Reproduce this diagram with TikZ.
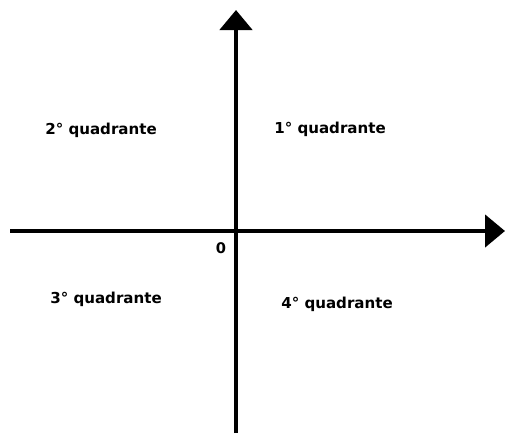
\documentclass[tikz,border=0pt]{standalone}
\usepackage{fontspec}
\setmainfont{DejaVu Sans}
\usetikzlibrary{arrows.meta}

\tikzset{
  eixo/.style={line width=3.5pt,-{Triangle[width=24pt,length=15pt]}},
  quad/.style={font=\bfseries\fontsize{11.3}{13}\selectfont}
}

\begin{document}
\begin{tikzpicture}[x=0.75pt,y=-0.75pt]
  \useasboundingbox (0,0) rectangle (506,433);
  % eixos
  \coordinate (xini) at (10,231);
  \coordinate (xfim) at (505,231);
  \coordinate (yini) at (236,433);
  \coordinate (yfim) at (236,10);
  \draw[eixo] (xini) -- (xfim);
  \draw[eixo] (yini) -- (yfim);
  \node[font=\bfseries\fontsize{11}{12}\selectfont] (origem) at (221,248) {0};
  % quadrantes
  \node[quad] (q1) at (330,129) {1° quadrante};
  \node[quad] (q2) at (101,130) {2° quadrante};
  \node[quad] (q3) at (106,299) {3° quadrante};
  \node[quad] (q4) at (337,304) {4° quadrante};
\end{tikzpicture}
\end{document}
